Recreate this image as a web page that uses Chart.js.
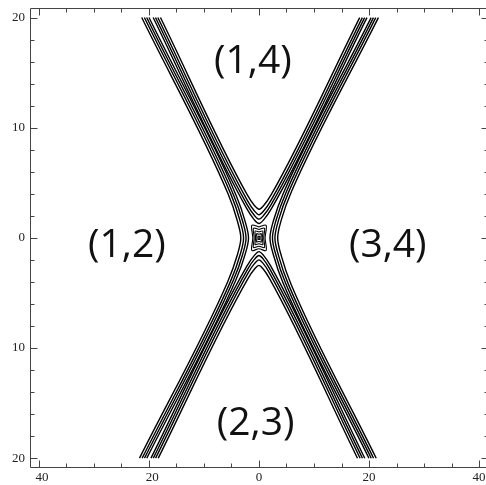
<!DOCTYPE html>
<html>
<head>
<meta charset="utf-8">
<script src="https://cdn.jsdelivr.net/npm/chart.js@4/dist/chart.umd.min.js"></script>
<style>
  html, body { margin: 0; padding: 0; background: #fff; overflow: hidden; }
  canvas { display: block; }
</style>
</head>
<body>
<canvas id="chart" width="486" height="485"></canvas>
<script>
// Visible plot window and tick values (the right frame edge lies just past the canvas)
const xRange = [-41.6, 41.25];
const yRange = [-20.8, 20.85];
const xTickStep = 5, xLabelEvery = 20;
const yTickStep = 2, yLabelEvery = 10;

// Soliton crests: x where each crest meets y = +20 and y = -20
const crestA = [-19.6, 19.6];
const crestB = [20.0, -20.0];

// Horizontal distance of each contour level from its crest, innermost first
const levelOffsets = [0.38, 0.8, 1.22, 1.7];

// Where the contours of each level turn round inside each region
const topVertex    = [1.3, 1.7, 2.1, 2.6];
const bottomVertex = [-1.25, -1.6, -2.0, -2.5];
const leftVertex   = [-1.9, -2.35, -2.8, -3.3];
const rightVertex  = [2.0, 2.45, 2.9, 3.4];

// Closed contours round the peak where the two solitons cross
const peakHalfW = [1.3, 1.0, 0.7, 0.42, 0.16];
const peakHalfH = [1.15, 0.88, 0.62, 0.38, 0.15];

// Region labels
const regionLabels = ['(1,4)', '(1,2)', '(3,4)', '(2,3)'];
const labelX = [-1.1, -24.0, 23.4, -0.6];
const labelY = [16.0, -0.7, -0.7, -16.85];

const lineA = y => crestA[1] + (crestA[0] - crestA[1]) * (y + 20) / 40;
const lineB = y => crestB[1] + (crestB[0] - crestB[1]) * (y + 20) / 40;
const slopeA = (crestA[0] - crestA[1]) / 40, slopeB = (crestB[0] - crestB[1]) / 40;
const xA0 = lineA(0), xB0 = lineB(0);
const R2 = Math.SQRT2;

const curves = [];
const contourStyle = { borderColor: '#000', borderWidth: 1.4, pointRadius: 0, fill: false };

levelOffsets.forEach((d, i) => {
  // top region: right side of A meets left side of B
  {
    const c = (xA0 - xB0 + 2 * d) / (slopeB - slopeA);
    const h = topVertex[i] - c, xc = lineA(c) + d;
    curves.push({ ...contourStyle, cubicInterpolationMode: 'monotone', data: [
      { x: lineA(20) + d, y: 20 },
      { x: lineA(c + 2.5 * h) + d, y: c + 2.5 * h },
      { x: xc - h, y: c + R2 * h },
      { x: xc, y: topVertex[i] },
      { x: xc + h, y: c + R2 * h },
      { x: lineB(c + 2.5 * h) - d, y: c + 2.5 * h },
      { x: lineB(20) - d, y: 20 }
    ]});
  }
  // bottom region: right side of B meets left side of A
  {
    const c = (xA0 - xB0 - 2 * d) / (slopeB - slopeA);
    const h = bottomVertex[i] - c, xc = lineB(c) + d, ah = Math.abs(h);
    curves.push({ ...contourStyle, cubicInterpolationMode: 'monotone', data: [
      { x: lineB(-20) + d, y: -20 },
      { x: lineB(c + 2.5 * h) + d, y: c + 2.5 * h },
      { x: xc - ah, y: c + R2 * h },
      { x: xc, y: bottomVertex[i] },
      { x: xc + ah, y: c + R2 * h },
      { x: lineA(c + 2.5 * h) - d, y: c + 2.5 * h },
      { x: lineA(-20) - d, y: -20 }
    ]});
  }
  // left region: left side of A (upper) meets left side of B (lower)
  {
    const y0 = (xA0 - xB0) / (slopeB - slopeA);
    const xc = lineA(y0) - d, h = xc - leftVertex[i];
    curves.push({ ...contourStyle, indexAxis: 'y', cubicInterpolationMode: 'monotone', data: [
      { x: lineB(-20) - d, y: -20 },
      { x: lineB(y0 - 2.5 * h) - d, y: y0 - 2.5 * h },
      { x: xc - R2 * h, y: y0 - h },
      { x: leftVertex[i], y: y0 },
      { x: xc - R2 * h, y: y0 + h },
      { x: lineA(y0 + 2.5 * h) - d, y: y0 + 2.5 * h },
      { x: lineA(20) - d, y: 20 }
    ]});
  }
  // right region: right side of A (lower) meets right side of B (upper)
  {
    const y0 = (xA0 - xB0) / (slopeB - slopeA);
    const xc = lineB(y0) + d, h = rightVertex[i] - xc;
    curves.push({ ...contourStyle, indexAxis: 'y', cubicInterpolationMode: 'monotone', data: [
      { x: lineA(-20) + d, y: -20 },
      { x: lineA(y0 - 2.5 * h) + d, y: y0 - 2.5 * h },
      { x: xc + R2 * h, y: y0 - h },
      { x: rightVertex[i], y: y0 },
      { x: xc + R2 * h, y: y0 + h },
      { x: lineB(y0 + 2.5 * h) + d, y: y0 + 2.5 * h },
      { x: lineB(20) + d, y: 20 }
    ]});
  }
});

// peak contours: rounded boxes whose corners lean out along the crests
peakHalfW.forEach((a, i) => {
  const b = peakHalfH[i];
  curves.push({ ...contourStyle, borderWidth: 1.1, tension: 0.3, data: [
    { x: 0, y: 0.86 * b }, { x: a, y: b }, { x: 0.86 * a, y: 0 }, { x: a, y: -b },
    { x: 0, y: -0.86 * b }, { x: -a, y: -b }, { x: -0.86 * a, y: 0 }, { x: -a, y: b },
    { x: 0, y: 0.86 * b }
  ]});
});

// frame with inward ticks; the right edge of the frame falls just outside the canvas
const frameTicks = {
  id: 'frameTicks',
  afterDraw(chart) {
    const { ctx, chartArea: a, scales: { x, y } } = chart;
    const L = Math.round(a.left) + 0.5, T = Math.round(a.top) + 0.5;
    const B = Math.round(a.bottom) + 0.5, R = a.right + 2.5;
    ctx.save();
    ctx.strokeStyle = '#444';
    ctx.lineWidth = 1;
    ctx.beginPath();
    ctx.moveTo(R, T); ctx.lineTo(L, T); ctx.lineTo(L, B); ctx.lineTo(R, B);
    x.ticks.forEach(t => {
      const px = Math.round(x.getPixelForValue(t.value)) + 0.5;
      const len = t.value % xLabelEvery === 0 ? 7 : 4;
      ctx.moveTo(px, B); ctx.lineTo(px, B - len);
      ctx.moveTo(px, T); ctx.lineTo(px, T + len);
    });
    y.ticks.forEach(t => {
      const py = Math.round(y.getPixelForValue(t.value)) + 0.5;
      const len = t.value % yLabelEvery === 0 ? 7 : 4;
      ctx.moveTo(L, py); ctx.lineTo(L + len, py);
      ctx.moveTo(R, py); ctx.lineTo(R - len, py);
    });
    ctx.stroke();
    ctx.restore();
  }
};

// region names written into the plot
const regionText = {
  id: 'regionText',
  afterDatasetsDraw(chart) {
    const { ctx, scales: { x, y } } = chart;
    ctx.save();
    ctx.fillStyle = '#111';
    ctx.font = '39px "Open Sans"';
    ctx.textAlign = 'center';
    ctx.textBaseline = 'middle';
    regionLabels.forEach((s, i) => {
      ctx.fillText(s, x.getPixelForValue(labelX[i]), y.getPixelForValue(labelY[i]));
    });
    ctx.restore();
  }
};

const tickFont = { family: '"Liberation Serif", "DejaVu Serif", serif', size: 13 };

new Chart(document.getElementById('chart'), {
  type: 'line',
  data: { datasets: curves },
  options: {
    responsive: false,
    animation: false,
    events: [],
    layout: { padding: { top: 8.2, right: 0, left: 0, bottom: 0 } },
    plugins: { legend: { display: false }, tooltip: { enabled: false } },
    scales: {
      x: {
        type: 'linear', min: xRange[0], max: xRange[1],
        grid: { display: false, drawTicks: false }, border: { display: false },
        afterFit: s => { s.height = 18; s.paddingLeft = 0; s.paddingRight = 0; },
        ticks: {
          stepSize: xTickStep, includeBounds: false, autoSkip: false, maxRotation: 0,
          padding: 3, color: '#222', font: tickFont,
          callback: v => v % xLabelEvery === 0 ? (v < 0 ? '\u2002' + Math.abs(v) : String(v)) : ''
        }
      },
      y: {
        type: 'linear', min: yRange[0], max: yRange[1],
        grid: { display: false, drawTicks: false }, border: { display: false },
        afterFit: s => { s.width = 30; s.paddingTop = 0; s.paddingBottom = 0; },
        ticks: {
          stepSize: yTickStep, includeBounds: false, autoSkip: false,
          padding: 5, color: '#222', font: tickFont,
          callback: v => v % yLabelEvery === 0 ? String(Math.abs(v)) : ''
        }
      }
    }
  },
  plugins: [frameTicks, regionText]
});
</script>
</body>
</html>
